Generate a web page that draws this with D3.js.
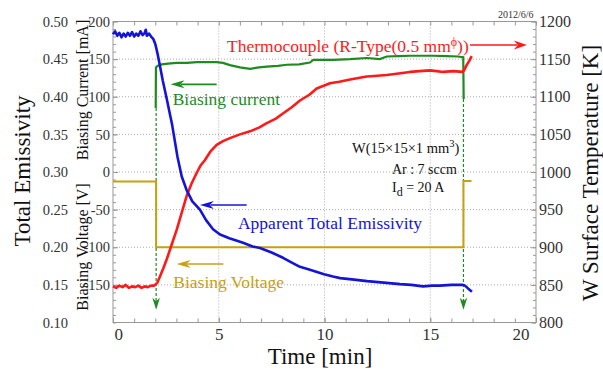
<!DOCTYPE html>
<html>
<head>
<meta charset="utf-8">
<script src="https://cdn.jsdelivr.net/npm/d3@7"></script>
<style>
  body { margin: 0; background: #fff; }
  svg, svg text { font-family: "Liberation Serif", "Times New Roman", Times, "DejaVu Serif", serif !important; }
</style>
</head>
<body>
<div id="chart"></div>
<script>
// [time (min), value] pairs
const emissivity = [
  [0,0.483],[0.1,0.487],[0.2,0.481],[0.3,0.485],[0.4,0.479],[0.5,0.484],[0.6,0.480],[0.7,0.485],
  [0.8,0.481],[0.9,0.486],[1.0,0.480],[1.1,0.484],[1.2,0.481],[1.3,0.487],[1.4,0.482],[1.5,0.485],
  [1.55,0.489],[1.6,0.481],[1.7,0.484],[1.8,0.480],[1.9,0.477],[2.0,0.470],[2.1,0.458],[2.2,0.444],
  [2.35,0.422],[2.55,0.396],[2.8,0.362],[3.05,0.320],[3.25,0.294],[3.48,0.276],[3.75,0.261],
  [4.11,0.250],[4.4,0.236],[4.73,0.224],[5.06,0.217],[5.5,0.212],[6.15,0.206],[6.6,0.201],
  [6.95,0.199],[7.5,0.193],[8.04,0.186],[8.5,0.179],[8.84,0.174],[9.31,0.170],[9.98,0.164],
  [10.4,0.161],[10.74,0.159],[11.4,0.157],[12.01,0.155],[12.8,0.153],[13.57,0.151],[14.1,0.150],
  [14.66,0.148],[15.1,0.149],[15.46,0.149],[16.0,0.150],[16.55,0.150],[16.64,0.149],[16.8,0.145],
  [16.97,0.141]
];
const thermocouple = [
  [0,848],[0.15,846],[0.3,849],[0.45,847],[0.6,850],[0.75,846],[0.9,848],[1.05,847],[1.2,849],
  [1.35,846],[1.5,848],[1.65,847],[1.8,849],[1.95,849],[2.1,853],[2.22,861],[2.38,872],[2.54,884],
  [2.78,904],[3.01,923],[3.25,946],[3.48,968],[3.72,985],[3.96,999],[4.15,1009],[4.35,1016],
  [4.6,1027],[4.9,1036],[5.2,1041],[5.53,1045],[6.0,1050],[6.48,1054],[6.9,1059],[7.27,1065],
  [7.7,1071],[8.05,1078],[8.45,1086],[8.84,1095],[9.3,1103],[9.63,1111],[10.26,1118],[10.7,1120],
  [11.21,1123],[11.6,1125],[12.0,1127],[12.5,1128],[12.94,1129],[13.5,1131],[14.04,1133],
  [14.5,1134],[14.99,1135],[15.3,1134],[15.6,1133],[16.1,1134],[16.5,1133],[16.6,1135],
  [16.7,1141],[16.85,1148],[16.96,1154]
];
const biasCurrent = [
  [2.02,85],[2.03,139],[2.1,141],[2.3,143],[2.6,144],[3.0,145],[3.5,145],[3.96,146],[4.5,146],
  [4.9,146],[5.2,145],[5.53,142],[6.0,139],[6.48,137],[6.9,139],[7.27,140],[7.8,141],[8.21,142.5],
  [8.8,143],[9.31,145.5],[9.47,149],[10.0,149],[10.42,149],[11.21,150],[12.0,151.5],[12.62,150],
  [12.94,153.5],[13.5,154],[14.04,154.5],[15.14,154.5],[15.78,154],[16.3,153.5],[16.56,152.5],
  [16.58,97]
];
const biasVoltage = [
  [0,-12.5],[2.04,-12.5],[2.04,-100],[16.57,-100],[16.57,-12],[16.95,-12]
];
// switching times marked by the dashed arrows [time, from current, to]
const switchMarks = [[2.04, 85, -183], [16.57, 97, -183]];

const timeTicks = [0, 5, 10, 15, 20];
const emisTicks = [0.10, 0.15, 0.20, 0.25, 0.30, 0.35, 0.40, 0.45, 0.50];
const biasTicks = [-150, -100, -50, 0, 50, 100, 150, 200];
const tempTicks = [800, 850, 900, 950, 1000, 1050, 1100, 1150, 1200];

const colors = {em: "#1414d8", tc: "#ff1a1a", cur: "#1f8a1f", volt: "#c8a010"};
const serif = '"Liberation Serif", "Times New Roman", Times, serif';

const W = 603, H = 369;
const m = {left: 113, right: 536, top: 21.5, bottom: 322.5};

const svg = d3.select("#chart").append("svg")
  .attr("width", W).attr("height", H)
  .attr("font-family", serif);

const x = d3.scaleLinear().domain([0, 20]).range([m.left, m.right]);
const yEm = d3.scaleLinear().domain([0.1, 0.5]).range([m.bottom, m.top]);
const yBias = d3.scaleLinear().domain([-200, 200]).range([m.bottom, m.top]);
const yTemp = d3.scaleLinear().domain([800, 1200]).range([m.bottom, m.top]);

// grid
const grid = svg.append("g").attr("stroke", "#aaa").attr("stroke-dasharray", "1,2");
grid.selectAll("line.h").data(biasTicks.filter(d => d < 200)).enter().append("line")
  .attr("x1", m.left).attr("x2", m.right)
  .attr("y1", d => yBias(d)).attr("y2", d => yBias(d));
grid.selectAll("line.v").data(timeTicks.filter(d => d > 0 && d < 20)).enter().append("line")
  .attr("y1", m.top).attr("y2", m.bottom)
  .attr("x1", d => x(d)).attr("x2", d => x(d));

function styleAxis(g) {
  g.attr("font-family", serif);
  g.select(".domain").remove();
  g.selectAll("line").attr("stroke", "#999");
  g.selectAll("text").attr("fill", "#333");
}
const plain = d => String(d);

// minor ticks
const minor = (axis, pos) => svg.append("g").attr("transform", pos)
  .call(axis.tickFormat("")).call(styleAxis);
minor(d3.axisBottom(x).tickValues(d3.range(0, 21)).tickSize(-4), `translate(0,${m.bottom})`);
minor(d3.axisTop(x).tickValues(d3.range(0, 21)).tickSize(-4), `translate(0,${m.top})`);
minor(d3.axisLeft(yBias).tickValues(d3.range(-200, 201, 10)).tickSize(-3), `translate(${m.left},0)`);
minor(d3.axisRight(yTemp).tickValues(d3.range(800, 1201, 10)).tickSize(-3), `translate(${m.right},0)`);

// major axes with labels
const xAxis = svg.append("g").attr("transform", `translate(0,${m.bottom})`)
  .call(d3.axisBottom(x).tickValues(timeTicks).tickSize(-5).tickPadding(5).tickFormat(plain))
  .call(styleAxis);
xAxis.attr("font-size", 17);
xAxis.selectAll("text").filter(d => d === 0).attr("text-anchor", "start").attr("x", 1);
xAxis.selectAll("text").filter(d => d === 20).attr("text-anchor", "end").attr("x", -7);

svg.append("g").attr("transform", `translate(${m.left},0)`)
  .call(d3.axisLeft(yBias).tickValues(biasTicks).tickSize(-5).tickPadding(3).tickFormat(plain))
  .call(styleAxis)
  .attr("font-size", 14.5);

svg.append("g").attr("transform", "translate(68,0)")
  .call(d3.axisLeft(yEm).tickValues(emisTicks).tickSize(0).tickPadding(0).tickFormat(d => d.toFixed(2)))
  .call(styleAxis)
  .attr("font-size", 14.5);

svg.append("g").attr("transform", `translate(${m.right},0)`)
  .call(d3.axisRight(yTemp).tickValues(tempTicks).tickSize(-5).tickPadding(3).tickFormat(plain))
  .call(styleAxis)
  .attr("font-size", 16);

// frame
svg.append("rect")
  .attr("x", m.left).attr("y", m.top)
  .attr("width", m.right - m.left).attr("height", m.bottom - m.top)
  .attr("fill", "none").attr("stroke", "#999");

// axis titles
function title(tr, size, txt, anchor) {
  return svg.append("text").attr("transform", tr)
    .attr("text-anchor", anchor || "middle").attr("font-size", size)
    .attr("fill", "#111").text(txt);
}
title("translate(30,171) rotate(-90)", 23, "Total Emissivity");
title("translate(88,90) rotate(-90)", 16, "Biasing Current [mA]");
title("translate(88,247) rotate(-90)", 16, "Biasing Voltage  [V]");
title("translate(598,173) rotate(-90)", 23, "W Surface Temperature [K]");
title("translate(320,364)", 23, "Time [min]");
svg.append("text").attr("x", x(19.88)).attr("y", yBias(204.7))
  .attr("text-anchor", "end").attr("font-size", 10).attr("fill", "#333")
  .text("2012/6/6");

// arrows
function arrowHead(cx, cy, angle, len, half, color) {
  // tip at (cx, cy), pointing along angle (radians)
  const ca = Math.cos(angle), sa = Math.sin(angle);
  const p = (a, b) => [cx - a * ca - b * sa, cy - a * sa + b * ca];
  const pts = [p(0, 0), p(len, half), p(len * 0.7, 0), p(len, -half)];
  svg.append("path").attr("d", "M" + pts.join("L") + "Z").attr("fill", color);
}
function arrow(t1, v1, t2, v2, color, len, half) {
  const x1 = x(t1), y1 = yBias(v1), x2 = x(t2), y2 = yBias(v2);
  const ang = Math.atan2(y2 - y1, x2 - x1);
  svg.append("line")
    .attr("x1", x1).attr("y1", y1)
    .attr("x2", x2 - Math.cos(ang) * len * 0.75).attr("y2", y2 - Math.sin(ang) * len * 0.75)
    .attr("stroke", color).attr("stroke-width", 1.6);
  arrowHead(x2, y2, ang, len, half, color);
}

switchMarks.forEach(d => {
  svg.append("line")
    .attr("x1", x(d[0])).attr("x2", x(d[0]))
    .attr("y1", yBias(d[1])).attr("y2", yBias(d[2]) - 8)
    .attr("stroke", colors.cur).attr("stroke-width", 1.2).attr("stroke-dasharray", "3,2");
  arrowHead(x(d[0]), yBias(d[2]), Math.PI / 2, 12, 3.8, colors.cur);
});

// series
const lineEm = d3.line().x(d => x(d[0])).y(d => yEm(d[1]));
const lineTemp = d3.line().x(d => x(d[0])).y(d => yTemp(d[1]));
const lineBias = d3.line().x(d => x(d[0])).y(d => yBias(d[1]));

svg.append("path").datum(biasVoltage).attr("d", lineBias)
  .attr("fill", "none").attr("stroke", colors.volt).attr("stroke-width", 2);
svg.append("path").datum(biasCurrent).attr("d", lineBias)
  .attr("fill", "none").attr("stroke", colors.cur).attr("stroke-width", 2.2);
svg.append("path").datum(thermocouple).attr("d", lineTemp)
  .attr("fill", "none").attr("stroke", colors.tc).attr("stroke-width", 2.6)
  .attr("stroke-linejoin", "round");
svg.append("path").datum(emissivity).attr("d", lineEm)
  .attr("fill", "none").attr("stroke", colors.em).attr("stroke-width", 2.6)
  .attr("stroke-linejoin", "round");

// annotations (placed in time / bias-axis units)
const tc = svg.append("text").attr("x", x(5.39)).attr("y", yBias(159.5))
  .attr("font-size", 17.5).attr("fill", colors.tc);
tc.append("tspan").text("Thermocouple (R-Type(0.5 mm");
tc.append("tspan").attr("dy", -6).attr("font-size", 12).text("\u03D5");
tc.append("tspan").attr("dy", 6).text("))");
arrow(16.88, 168.8, 19.57, 168.8, colors.tc, 13, 4.5);

svg.append("text").attr("x", x(2.82)).attr("y", yBias(88.4))
  .attr("font-size", 17.5).attr("fill", colors.cur).text("Biasing current");
arrow(4.9, 116.5, 2.72, 116.5, colors.cur, 14, 4);

svg.append("text").attr("x", x(5.91)).attr("y", yBias(-76.4))
  .attr("font-size", 17.5).attr("fill", colors.em).text("Apparent Total Emissivity");
arrow(6.32, -43.9, 4.11, -43.9, colors.em, 14, 4);

svg.append("text").attr("x", x(2.85)).attr("y", yBias(-154.8))
  .attr("font-size", 17.5).attr("fill", colors.volt).text("Biasing Voltage");
arrow(5.22, -122.3, 3.01, -122.3, colors.volt, 14, 4);

const wt = svg.append("text").attr("x", x(11.3)).attr("y", yBias(24.6))
  .attr("font-size", 14.5).attr("fill", "#111");
wt.append("tspan").text("W(15\u00D715\u00D71 mm");
wt.append("tspan").attr("dy", -6).attr("font-size", 10.5).text("3");
wt.append("tspan").attr("dy", 6).text(")");

svg.append("text").attr("x", x(16.26)).attr("y", yBias(-2.7))
  .attr("text-anchor", "end").attr("font-size", 14).attr("fill", "#111")
  .text("Ar : 7 sccm");

const id = svg.append("text").attr("x", x(13.19)).attr("y", yBias(-26.6))
  .attr("font-size", 14).attr("fill", "#111");
id.append("tspan").text("I");
id.append("tspan").attr("dy", 4).attr("font-size", 12).text("d");
id.append("tspan").attr("dy", -4).text(" = 20 A");
</script>
</body>
</html>
